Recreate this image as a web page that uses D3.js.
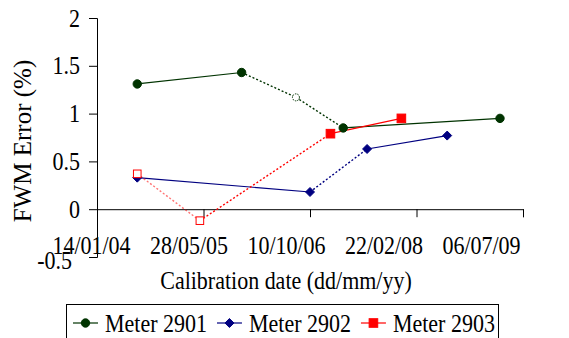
<!DOCTYPE html>
<html><head><meta charset="utf-8">
<script src="https://cdn.jsdelivr.net/npm/d3@7"></script>
<style>
body{margin:0;background:#fff}
svg{display:block}
svg text{font-family:"Times New Roman","Liberation Serif",Times,"DejaVu Serif",serif !important;fill:#000}
</style>
</head><body>
<svg id="c" width="569" height="338"></svg>
<script>
// ---- data ----
const xTickLabels = ["14/01/04","28/05/05","10/10/06","22/02/08","06/07/09"];
const yTicks = [-0.5, 0, 0.5, 1, 1.5, 2];
const seriesNames = ["Meter 2901","Meter 2902","Meter 2903"];
const seriesColors = ["#003300","#000080","#ff0000"];
const seriesShapes = ["circle","diamond","square"];

const dates2901  = ["21/07/04","23/11/05","05/08/06","15/03/07","20/03/09"];
const values2901 = [1.31, 1.43, 1.17, 0.85, 0.95];
const open2901   = [false, false, true, false, false];
const style2901  = ["solid","dotted","dotted","solid"];

const dates2902  = ["21/07/04","10/10/06","05/07/07","15/07/08"];
const values2902 = [0.33, 0.18, 0.63, 0.77];
const open2902   = [false, false, false, false];
const style2902  = ["solid","dotted","solid"];

const dates2903  = ["21/07/04","11/05/05","14/01/07","13/12/07"];
const values2903 = [0.37, -0.12, 0.79, 0.95];
const open2903   = [true, true, false, false];
const style2903  = ["dottedLight","dotted","solid"];

// ---- setup ----
const parse = d3.utcParse("%d/%m/%y");
const fmt = d3.utcFormat("%d/%m/%y");
const svg = d3.select("#c");
const SX = 0.88; // horizontal text compression seen in the reference

const xTicks = xTickLabels.map(parse);
const x = d3.scaleUtc().domain([xTicks[0], xTicks[xTicks.length-1]]).range([97, 523]);
const y = d3.scaleLinear().domain([-0.5, 2]).range([257, 18]);

const series = [
  {dates: dates2901, values: values2901, open: open2901, style: style2901},
  {dates: dates2902, values: values2902, open: open2902, style: style2902},
  {dates: dates2903, values: values2903, open: open2903, style: style2903}
].map((s, i) => ({
  name: seriesNames[i], color: seriesColors[i], shape: seriesShapes[i],
  pts: s.dates.map((d, j) => ({x: parse(d), y: s.values[j], open: s.open[j]})),
  style: s.style
}));

// ---- axes ----
const yAxis = svg.append("g").attr("transform", "translate(97,0)")
  .call(d3.axisLeft(y).tickValues(yTicks).tickSize(8).tickPadding(9).tickFormat(d => String(d)));
yAxis.attr("font-family", null);
yAxis.select(".domain").attr("stroke", "#000");
yAxis.selectAll(".tick line").attr("stroke", "#000");
yAxis.selectAll(".tick text")
  .attr("font-size", 25)
  .attr("transform", `scale(${SX},1)`)
  .attr("x", d => (d < 0 ? -25 : -17) / SX)
  .attr("y", d => d < 0 ? 3 : 0);

const xAxis = svg.append("g").attr("transform", `translate(0,${y(0)})`)
  .call(d3.axisBottom(x).tickValues(xTicks).tickSize(8).tickFormat(fmt));
xAxis.attr("font-family", null);
xAxis.select(".domain").attr("stroke", "#000");
xAxis.selectAll(".tick line").attr("stroke", "#000");
xAxis.selectAll(".tick text")
  .attr("font-size", 25)
  .attr("transform", `scale(${SX},1)`)
  .attr("dy", 0)
  .attr("y", 45)
  .attr("x", d => { const p = x(d); const target = 91 + (p - 97) * 0.9155; return (target - p) / SX; });

// axis titles
svg.append("text").attr("text-anchor", "middle").attr("font-size", 25)
  .attr("transform", `translate(286,289) scale(${SX},1)`).text("Calibration date (dd/mm/yy)");
svg.append("text").attr("text-anchor", "middle").attr("font-size", 25)
  .attr("transform", "translate(31,141) rotate(-90)").text("FWM Error (%)");

// ---- lines ----
const dashFor = st => st === "solid" ? null : "2,2";
series.forEach(s => {
  for (let k = 0; k < s.pts.length - 1; k++) {
    const a = s.pts[k], b = s.pts[k+1];
    const st = s.style[k];
    svg.append("line")
      .attr("x1", x(a.x)).attr("y1", y(a.y)).attr("x2", x(b.x)).attr("y2", y(b.y))
      .attr("stroke", s.color).attr("stroke-width", st === "solid" ? 1.2 : 1.4)
      .attr("stroke-opacity", st === "dottedLight" ? 0.55 : 1)
      .attr("stroke-dasharray", dashFor(st));
  }
});

// ---- markers ----
function marker(g, shape, cx, cy, color, open) {
  if (shape === "circle") {
    g.append("circle").attr("cx", cx).attr("cy", cy).attr("r", open ? 3.5 : 4.2)
      .attr("fill", open ? "#fff" : color).attr("stroke", color).attr("stroke-width", 1)
      .attr("stroke-dasharray", open ? "1.5,1" : null);
  } else if (shape === "diamond") {
    const r = 4.5;
    g.append("path").attr("d", `M${cx},${cy-r}L${cx+r},${cy}L${cx},${cy+r}L${cx-r},${cy}Z`)
      .attr("fill", open ? "#fff" : color).attr("stroke", color);
  } else {
    const h = open ? 3.8 : 4.3;
    g.append("rect").attr("x", cx-h).attr("y", cy-h).attr("width", 2*h).attr("height", 2*h)
      .attr("fill", open ? "#fff" : color).attr("stroke", color).attr("stroke-width", 1);
  }
}
series.forEach(s => {
  const g = svg.append("g");
  s.pts.forEach(p => marker(g, s.shape, x(p.x), y(p.y), s.color, p.open));
});

// ---- legend ----
const lg = svg.append("g");
lg.append("rect").attr("x", 66.5).attr("y", 304.5).attr("width", 432).attr("height", 45)
  .attr("fill", "#fff").attr("stroke", "#000");
let lx = 73;
series.forEach(s => {
  lg.append("line").attr("x1", lx).attr("x2", lx + 25).attr("y1", 323).attr("y2", 323)
    .attr("stroke", s.color).attr("stroke-width", 1.2);
  marker(lg, s.shape, lx + 12.5, 323, s.color, false);
  const t = lg.append("text").attr("font-size", 25)
    .attr("transform", `translate(${lx + 32},332) scale(${SX},1)`).text(s.name);
  const w = t.node().getComputedTextLength() * SX;
  lx = lx + 32 + w + 10;
});
</script>
</body></html>
